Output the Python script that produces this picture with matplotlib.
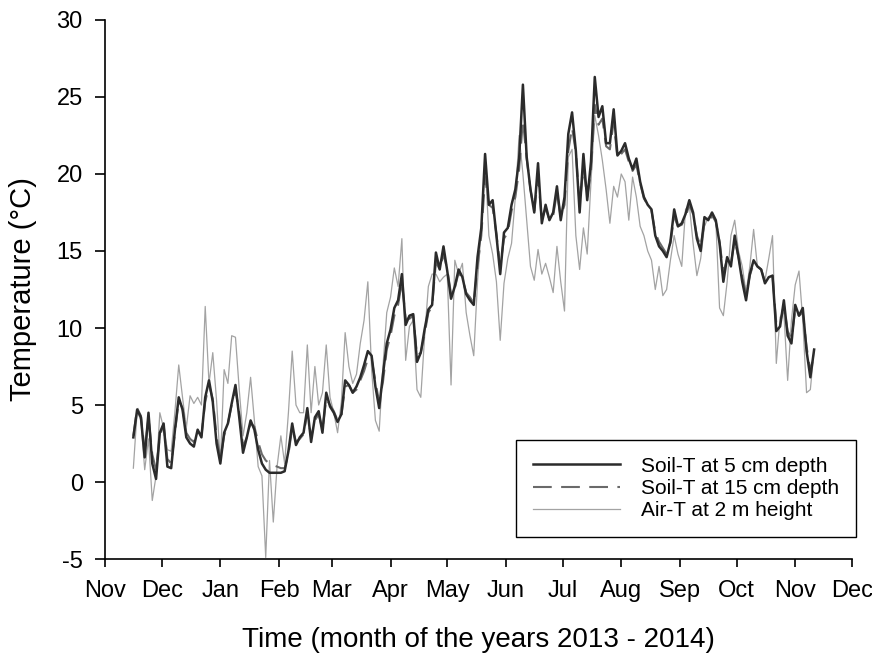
import matplotlib
matplotlib.use("Agg")
import matplotlib.pyplot as plt
import matplotlib.dates as mdates
import datetime as dt

plt.rcParams['font.family'] = ['Liberation Sans', 'DejaVu Sans']
plt.rcParams['axes.unicode_minus'] = False

# readings every second day, starting 16 Nov 2013
first_day = dt.date(2013, 11, 16)
step_days = 2

soil_5cm = [
    2.9, 4.7, 4.2, 1.6, 4.5, 1.2, 0.2, 3.2, 3.8, 1.0,
    0.9, 3.4, 5.5, 4.7, 2.9, 2.5, 2.3, 3.4, 2.9, 5.5,
    6.6, 5.2, 2.5, 1.2, 3.2, 3.8, 5.1, 6.3, 4.2, 1.9,
    2.9, 4.0, 3.4, 2.1, 1.2, 0.8, 0.6, 0.6, 0.6, 0.6,
    0.7, 2.0, 3.8, 2.4, 2.9, 3.2, 4.8, 2.6, 4.2, 4.6,
    3.2, 5.8, 4.9, 4.5, 3.9, 4.4, 6.6, 6.3, 5.8, 6.2,
    6.8, 7.6, 8.5, 8.2, 6.2, 4.8, 7.0, 9.0, 9.9, 11.3,
    11.8, 13.5, 10.2, 10.8, 10.9, 7.8, 8.4, 9.9, 11.2, 11.5,
    14.9, 13.8, 15.3, 13.7, 11.9, 12.7, 13.8, 13.3, 12.2, 11.8,
    11.5, 14.6, 16.5, 21.3, 18.0, 18.3, 16.0, 13.5, 16.2, 16.5,
    18.0, 19.0, 21.0, 25.8, 21.1, 19.0, 17.5, 20.7, 16.8, 18.0,
    17.0, 17.5, 19.2, 17.0, 18.5, 22.6, 24.0, 21.5, 17.5, 21.3,
    18.3, 20.8, 26.3, 23.7, 24.4, 22.0, 22.0, 24.2, 21.2, 21.5,
    22.0, 21.0, 20.3, 21.0, 19.5, 18.5, 18.0, 17.7, 16.0, 15.3,
    15.0, 14.6, 15.6, 17.7, 16.6, 16.8, 17.4, 18.3, 17.5, 15.8,
    15.0, 17.2, 17.0, 17.5, 17.0, 15.5, 13.0, 14.6, 14.0, 16.0,
    14.6, 13.0, 11.8, 13.5, 14.4, 14.0, 13.8, 12.9, 13.3, 13.4,
    9.8, 10.1, 11.8, 9.5, 9.0, 11.5, 10.8, 11.3, 8.5, 6.8,
    8.6,
]

soil_15cm = [
    3.0, 4.8, 4.3, 2.0, 4.2, 1.8, 0.8, 3.0, 3.7, 1.5,
    1.2, 3.2, 5.3, 4.8, 3.2, 2.8, 2.6, 3.3, 3.0, 5.2,
    6.3, 5.4, 3.0, 1.5, 3.0, 3.8, 5.0, 6.0, 4.5, 2.3,
    2.9, 3.8, 3.6, 2.6, 1.8, 1.4, 1.2, 1.1, 1.0, 0.9,
    0.9, 1.8, 3.5, 2.6, 2.8, 3.1, 4.5, 2.9, 4.0, 4.4,
    3.4, 5.4, 5.0, 4.6, 4.0, 4.3, 6.2, 6.3, 5.8, 6.0,
    6.6, 7.2, 8.0, 8.0, 6.5, 5.2, 6.5, 8.6, 9.5, 10.8,
    11.5, 13.0, 10.6, 10.6, 10.8, 8.2, 8.4, 9.6, 11.0, 11.4,
    14.3, 13.8, 14.8, 13.8, 12.2, 12.6, 13.6, 13.2, 12.3, 12.0,
    11.6, 14.0, 16.0, 19.8, 18.0, 17.8, 16.1, 14.0, 15.8, 16.2,
    17.6, 18.5, 20.3, 23.5, 21.0, 19.0, 17.6, 19.8, 17.0, 17.8,
    17.0, 17.3, 18.8, 17.2, 18.0, 21.5, 23.0, 21.4, 18.0, 20.4,
    18.5, 20.2, 24.5, 23.2, 23.6, 21.8, 21.6, 23.4, 21.0, 21.3,
    21.6, 20.8, 20.2, 20.6, 19.4, 18.4, 18.0, 17.6, 16.2, 15.6,
    15.2, 14.8, 15.5, 17.2, 16.6, 16.7, 17.2, 18.0, 17.4, 16.0,
    15.3, 16.8, 16.8, 17.3, 16.9, 15.6, 13.6, 14.5, 14.2, 15.7,
    14.6, 13.3, 12.2, 13.4, 14.2, 14.0, 13.8, 13.0, 13.3, 13.4,
    10.3, 10.3, 11.5, 9.8, 9.3, 11.2, 10.8, 11.0, 8.8, 7.2,
    8.3,
]

air_2m = [
    0.9, 4.6, 4.0, 0.8, 2.8, -1.2, 0.4, 4.5, 3.5, 2.1,
    2.0, 4.6, 7.6, 5.5, 3.5, 5.6, 5.1, 5.5, 5.0, 11.4,
    6.4, 8.4, 5.3, 1.2, 7.3, 6.4, 9.5, 9.4, 6.0, 3.0,
    4.5, 6.8, 4.0, 1.0, 0.4, -4.9, 1.4, -2.6, 1.0, 3.0,
    1.2, 4.5, 8.5, 5.0, 4.5, 4.5, 8.9, 4.5, 7.5, 5.0,
    5.8, 8.9, 5.5, 4.5, 3.2, 5.2, 9.7, 7.5, 6.4, 7.0,
    9.0, 10.5, 13.0, 7.3, 4.0, 3.3, 7.5, 11.0, 12.0, 13.9,
    12.7, 15.8, 7.9, 10.1, 10.5, 6.0, 5.5, 9.4, 12.7, 13.5,
    13.5, 13.0, 13.3, 13.5, 6.3, 14.4, 13.5, 14.2, 11.0, 9.5,
    8.2, 13.0, 16.5, 20.9, 16.0, 14.8, 13.0, 9.2, 12.9, 14.5,
    15.5, 18.5, 22.5, 20.0, 17.0, 14.0, 13.1, 15.1, 13.5, 14.2,
    13.3, 12.3, 15.3, 13.0, 11.1, 21.1, 21.6, 16.0, 13.8, 16.5,
    14.8, 19.5, 23.8, 22.5, 20.9, 19.0, 16.8, 19.2, 18.5, 20.0,
    19.5, 17.0, 19.8, 18.5, 16.6, 16.0, 15.0, 14.4, 12.5, 14.0,
    12.1, 12.5, 14.4, 16.0, 14.8, 14.0, 17.7, 18.0, 15.5, 13.4,
    14.5, 16.6, 17.2, 17.3, 17.0, 11.3, 10.8, 13.0, 16.0, 17.0,
    15.0, 14.0, 12.3, 14.0, 16.4, 14.0, 13.8, 13.1, 14.5, 16.0,
    7.7, 10.7, 11.0, 6.6, 10.5, 12.8, 13.7, 10.5, 5.8, 6.0,
    8.6,
]


def day_axis(values):
    return [first_day + dt.timedelta(days=step_days * i) for i in range(len(values))]


fig = plt.figure(figsize=(8.72, 6.59), dpi=100)
ax = fig.add_axes([0.1204, 0.1517, 0.8566, 0.818])

l_air, = ax.plot(day_axis(air_2m), air_2m, color='#a3a3a3', lw=0.9,
                 label='Air-T at 2 m height', zorder=1)
l_15, = ax.plot(day_axis(soil_15cm), soil_15cm, color='#6a6a6a', lw=1.5,
                dashes=(9, 4.5), label='Soil-T at 15 cm depth', zorder=2)
l_5, = ax.plot(day_axis(soil_5cm), soil_5cm, color='#2b2b2b', lw=1.8,
               label='Soil-T at 5 cm depth', zorder=3)

ax.set_xlim(dt.date(2013, 11, 1), dt.date(2014, 12, 1))
ax.set_ylim(-5, 30)
ax.xaxis.set_major_locator(mdates.MonthLocator())
ax.xaxis.set_major_formatter(mdates.DateFormatter('%b'))
ax.set_yticks(range(-5, 31, 5))

ax.spines['top'].set_visible(False)
ax.spines['right'].set_visible(False)
ax.spines['left'].set_linewidth(1.2)
ax.spines['bottom'].set_linewidth(1.2)
ax.tick_params(axis='both', direction='out', width=1.2, labelsize=17)
ax.tick_params(axis='x', length=6, pad=9)
ax.tick_params(axis='y', length=7, pad=9)

ax.set_xlabel('Time (month of the years 2013 - 2014)', fontsize=20, labelpad=18)
ax.set_ylabel('Temperature (°C)', fontsize=21, labelpad=14)

leg = ax.legend(handles=[l_5, l_15, l_air], loc='upper left',
                bbox_to_anchor=(516 / 872, 1 - 440 / 659), bbox_transform=fig.transFigure,
                fancybox=False, framealpha=1, edgecolor='black', fontsize=15,
                handlelength=4.2, handletextpad=1.0, borderpad=0.8,
                labelspacing=0.15, borderaxespad=0)
leg.get_frame().set_linewidth(1.0)

fig.savefig('out.png', dpi=100)
